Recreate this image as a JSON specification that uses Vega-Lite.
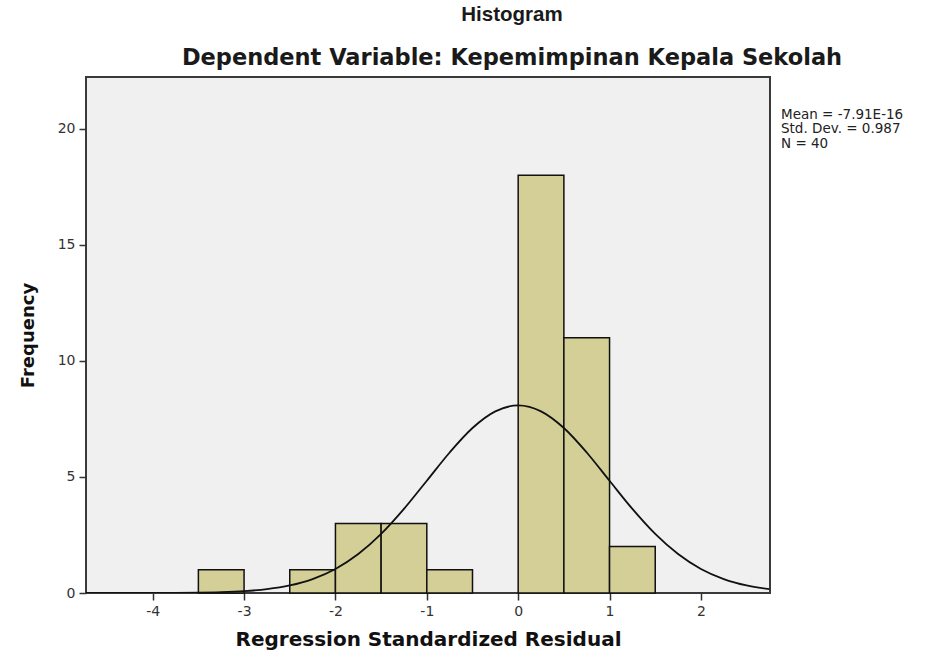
{
  "$schema": "https://vega.github.io/schema/vega-lite/v6.json",
  "width": 684,
  "height": 516,
  "autosize": "none",
  "padding": {"left": 86, "top": 77, "right": 161, "bottom": 65},
  "background": "white",
  "config": {
    "view": {"fill": "#f0f0f0", "stroke": "#3a3a3a", "strokeWidth": 2},
    "font": "Liberation Sans"
  },
  "title": {
    "text": "Histogram",
    "subtitle": "Dependent Variable: Kepemimpinan Kepala Sekolah",
    "anchor": "middle",
    "frame": "group",
    "dx": 84,
    "offset": 8,
    "fontSize": 20.5,
    "fontWeight": "bold",
    "subtitleFontSize": 22.5,
    "subtitleFontWeight": "bold",
    "subtitleColor": "#1a1a1a",
    "color": "#1a1a1a",
    "subtitlePadding": 21,
    "font": "Liberation Sans",
    "subtitleFont": "DejaVu Sans"
  },
  "datasets": {
    "bars": [
      {"lo": -3.5, "hi": -3.0, "count": 1},
      {"lo": -2.5, "hi": -2.0, "count": 1},
      {"lo": -2.0, "hi": -1.5, "count": 3},
      {"lo": -1.5, "hi": -1.0, "count": 3},
      {"lo": -1.0, "hi": -0.5, "count": 1},
      {"lo": 0.0, "hi": 0.5, "count": 18},
      {"lo": 0.5, "hi": 1.0, "count": 11},
      {"lo": 1.0, "hi": 1.5, "count": 2}
    ],
    "curve": [
      {"x": -4.75, "y": 0.0001},
      {"x": -4.5, "y": 0.0002},
      {"x": -4.25, "y": 0.0008},
      {"x": -4.0, "y": 0.0022},
      {"x": -3.75, "y": 0.0059},
      {"x": -3.5, "y": 0.015},
      {"x": -3.25, "y": 0.036},
      {"x": -3.0, "y": 0.080},
      {"x": -2.75, "y": 0.167},
      {"x": -2.5, "y": 0.327},
      {"x": -2.25, "y": 0.601},
      {"x": -2.0, "y": 1.037},
      {"x": -1.75, "y": 1.679},
      {"x": -1.5, "y": 2.547},
      {"x": -1.25, "y": 3.625},
      {"x": -1.0, "y": 4.838},
      {"x": -0.75, "y": 6.057},
      {"x": -0.5, "y": 7.111},
      {"x": -0.25, "y": 7.829},
      {"x": 0.0, "y": 8.084},
      {"x": 0.25, "y": 7.829},
      {"x": 0.5, "y": 7.111},
      {"x": 0.75, "y": 6.057},
      {"x": 1.0, "y": 4.838},
      {"x": 1.25, "y": 3.625},
      {"x": 1.5, "y": 2.547},
      {"x": 1.75, "y": 1.679},
      {"x": 2.0, "y": 1.037},
      {"x": 2.25, "y": 0.601},
      {"x": 2.5, "y": 0.327},
      {"x": 2.75, "y": 0.167}
    ],
    "notes": [
      {"label": "Mean = -7.91E-16", "y": 20.62},
      {"label": "Std. Dev. = 0.987", "y": 19.98},
      {"label": "N = 40", "y": 19.34}
    ]
  },
  "layer": [
    {
      "data": {"name": "bars"},
      "mark": {"type": "rect", "fill": "#d3cf96", "stroke": "#111", "strokeWidth": 1.5},
      "encoding": {
        "x": {
          "field": "lo", "type": "quantitative",
          "scale": {"domain": [-4.73, 2.756], "nice": false, "zero": false},
          "axis": {
            "values": [-4, -3, -2, -1, 0, 1, 2],
            "labelExpr": "'' + datum.value",
            "title": "Regression Standardized Residual",
            "titleFont": "DejaVu Sans", "titleFontSize": 20, "titleFontWeight": "bold",
            "titleColor": "#111", "titlePadding": 11,
            "labelFont": "DejaVu Sans", "labelFontSize": 14, "labelColor": "#333",
            "labelPadding": 4,
            "tickColor": "#333", "tickSize": 7, "tickWidth": 1.5,
            "domain": false, "grid": false
          }
        },
        "x2": {"field": "hi"},
        "y": {
          "field": "count", "type": "quantitative",
          "scale": {"domain": [0, 22.24], "nice": false},
          "axis": {
            "values": [0, 5, 10, 15, 20],
            "title": "Frequency",
            "titleFont": "DejaVu Sans", "titleFontSize": 18, "titleFontWeight": "bold",
            "titleColor": "#111", "titlePadding": 20,
            "labelFont": "DejaVu Sans", "labelFontSize": 14, "labelColor": "#333",
            "labelPadding": 4,
            "tickColor": "#333", "tickSize": 7, "tickWidth": 1.5,
            "domain": false, "grid": false
          }
        },
        "y2": {"datum": 0}
      }
    },
    {
      "data": {"name": "curve"},
      "mark": {"type": "line", "color": "#111", "strokeWidth": 1.8, "interpolate": "monotone", "clip": true},
      "encoding": {
        "x": {"field": "x", "type": "quantitative"},
        "y": {"field": "y", "type": "quantitative"}
      }
    },
    {
      "data": {"name": "notes"},
      "mark": {"type": "text", "align": "left", "baseline": "middle", "dx": 11, "fontSize": 13.5, "font": "DejaVu Sans", "color": "#222"},
      "encoding": {
        "x": {"datum": 2.756},
        "y": {"field": "y", "type": "quantitative"},
        "text": {"field": "label"}
      }
    }
  ]
}
